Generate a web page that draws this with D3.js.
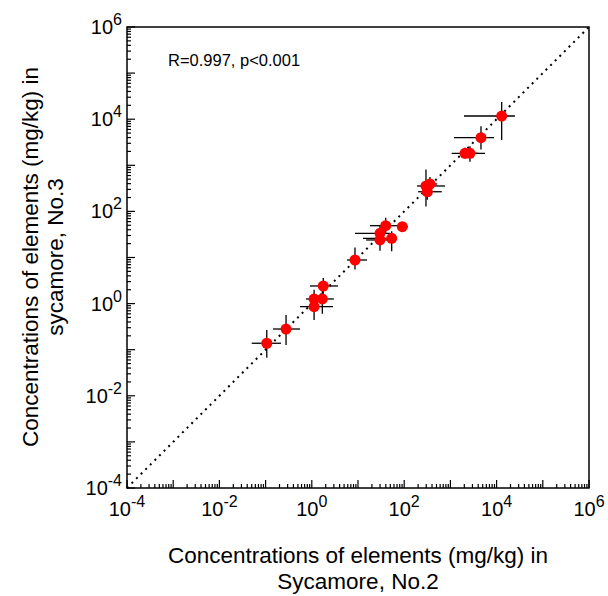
<!DOCTYPE html>
<html>
<head>
<meta charset="utf-8">
<script src="https://cdn.jsdelivr.net/npm/d3@7"></script>
<style>
  body { margin: 0; background: #fff; }
  text { font-family: "Liberation Sans", Arial, sans-serif; }
</style>
</head>
<body>
<div id="chart"></div>
<script>
// concentrations (mg/kg): x = Sycamore No.2, y = sycamore No.3
var xVals = [0.106, 0.277, 1.12, 1.12, 1.69, 1.77, 8.61, 39.8, 91, 29.9, 29.9, 53.6, 296, 361, 316, 12880, 4590, 2070, 2650];
var yVals = [0.138, 0.281, 1.26, 0.857, 1.26, 2.41, 8.83, 49.0, 46.6, 33.5, 24.0, 26.1, 356, 393, 267, 11720, 3970, 1820, 1820];
var xLow  = [0.050, 0.145, 0.75, 0.556, 1.1, 0.91, 5.78, 18.2, 70, 8.6, 15, 12.8, 189, 250, 200, 1968, 1197, 1066, 1800];
var xHigh = [0.215, 0.556, 2.1, 2.88, 3.0, 3.69, 15.7, 73.4, 120, 50, 45, 69.8, 764, 520, 650, 25000, 8790, 5610, 4000];
var yLow  = [0.067, 0.126, 0.75, 0.44, 0.6, 1.36, 5.5, 34.3, 38, 22, 14, 13.7, 128, 260, 180, 3540, 2200, 1400, 1200];
var yHigh = [0.267, 0.566, 2.0, 1.32, 2.3, 3.59, 16.5, 72.6, 58, 50, 36, 37.2, 811, 560, 390, 23600, 7050, 2400, 2600];
var tickExps = [-4, -2, 0, 2, 4, 6];
var statText = "R=0.997, p<0.001";

var width = 608, height = 596;
var margin = {left: 127, right: 589, top: 27, bottom: 488};

var svg = d3.select("#chart")
  .append("svg")
    .attr("width", width)
    .attr("height", height);

var x = d3.scaleLog().domain([1e-4, 1e6]).range([margin.left, margin.right]);
var y = d3.scaleLog().domain([1e-4, 1e6]).range([margin.bottom, margin.top]);

var data = xVals.map(function(d, i) {
  return {x: d, y: yVals[i], x0: xLow[i], x1: xHigh[i], y0: yLow[i], y1: yHigh[i]};
});

// minor + major ticks, pointing inward
var allTicks = [];
for (var e = -4; e < 6; e++) {
  for (var m = 1; m < 10; m++) allTicks.push({v: m * Math.pow(10, e), major: m == 1});
}
allTicks.push({v: 1e6, major: true});

svg.append("g").selectAll("line")
  .data(allTicks).enter().append("line")
    .attr("x1", function(d) { return x(d.v); })
    .attr("x2", function(d) { return x(d.v); })
    .attr("y1", margin.bottom)
    .attr("y2", function(d) { return margin.bottom - (d.major ? 8 : 4); })
    .attr("stroke", "black")
    .attr("stroke-width", 1.2);

svg.append("g").selectAll("line")
  .data(allTicks).enter().append("line")
    .attr("y1", function(d) { return y(d.v); })
    .attr("y2", function(d) { return y(d.v); })
    .attr("x1", margin.left)
    .attr("x2", function(d) { return margin.left + (d.major ? 8 : 4); })
    .attr("stroke", "black")
    .attr("stroke-width", 1.2);

// frame
svg.append("rect")
  .attr("x", margin.left).attr("y", margin.top)
  .attr("width", margin.right - margin.left).attr("height", margin.bottom - margin.top)
  .attr("fill", "none")
  .attr("stroke", "black")
  .attr("stroke-width", 1.5);

// tick labels
var xl = svg.append("g").selectAll("text")
  .data(tickExps).enter().append("text")
    .attr("x", function(d) { return x(Math.pow(10, d)); })
    .attr("y", 516)
    .attr("text-anchor", "middle")
    .style("font-size", "20px");
xl.append("tspan").text("10");
xl.append("tspan").attr("dy", -9).style("font-size", "16px").text(function(d) { return d; });

var yl = svg.append("g").selectAll("text")
  .data(tickExps).enter().append("text")
    .attr("x", 122)
    .attr("y", function(d) { return y(Math.pow(10, d)) + 7; })
    .attr("text-anchor", "end")
    .style("font-size", "20px");
yl.append("tspan").text("10");
yl.append("tspan").attr("dy", -9).style("font-size", "16px").text(function(d) { return d; });

// 1:1 line
svg.append("line")
  .attr("x1", x(1e-4)).attr("y1", y(1e-4))
  .attr("x2", x(1e6)).attr("y2", y(1e6))
  .attr("stroke", "black")
  .attr("stroke-width", 2)
  .attr("stroke-dasharray", "2,4.5");

// error bars
svg.append("g").selectAll("line")
  .data(data).enter().append("line")
    .attr("x1", function(d) { return x(d.x0); })
    .attr("x2", function(d) { return x(d.x1); })
    .attr("y1", function(d) { return y(d.y); })
    .attr("y2", function(d) { return y(d.y); })
    .attr("stroke", "black")
    .attr("stroke-width", 1.3);

svg.append("g").selectAll("line")
  .data(data).enter().append("line")
    .attr("x1", function(d) { return x(d.x); })
    .attr("x2", function(d) { return x(d.x); })
    .attr("y1", function(d) { return y(d.y0); })
    .attr("y2", function(d) { return y(d.y1); })
    .attr("stroke", "black")
    .attr("stroke-width", 1.3);

svg.append("g").selectAll("circle")
  .data(data).enter().append("circle")
    .attr("cx", function(d) { return x(d.x); })
    .attr("cy", function(d) { return y(d.y); })
    .attr("r", 5.5)
    .attr("fill", "red");

svg.append("text")
  .attr("x", 168).attr("y", 66)
  .style("font-size", "16.5px")
  .text(statText);

// axis titles
svg.append("text")
  .attr("x", 358).attr("y", 563)
  .attr("text-anchor", "middle")
  .style("font-size", "22.5px")
  .text("Concentrations of elements (mg/kg) in");
svg.append("text")
  .attr("x", 358).attr("y", 589)
  .attr("text-anchor", "middle")
  .style("font-size", "22.5px")
  .text("Sycamore, No.2");

svg.append("text")
  .attr("transform", "translate(38,257) rotate(-90)")
  .attr("text-anchor", "middle")
  .style("font-size", "22.5px")
  .text("Concentrations of elements (mg/kg) in");
svg.append("text")
  .attr("transform", "translate(63,257) rotate(-90)")
  .attr("text-anchor", "middle")
  .style("font-size", "22.5px")
  .text("sycamore, No.3");
</script>
</body>
</html>
